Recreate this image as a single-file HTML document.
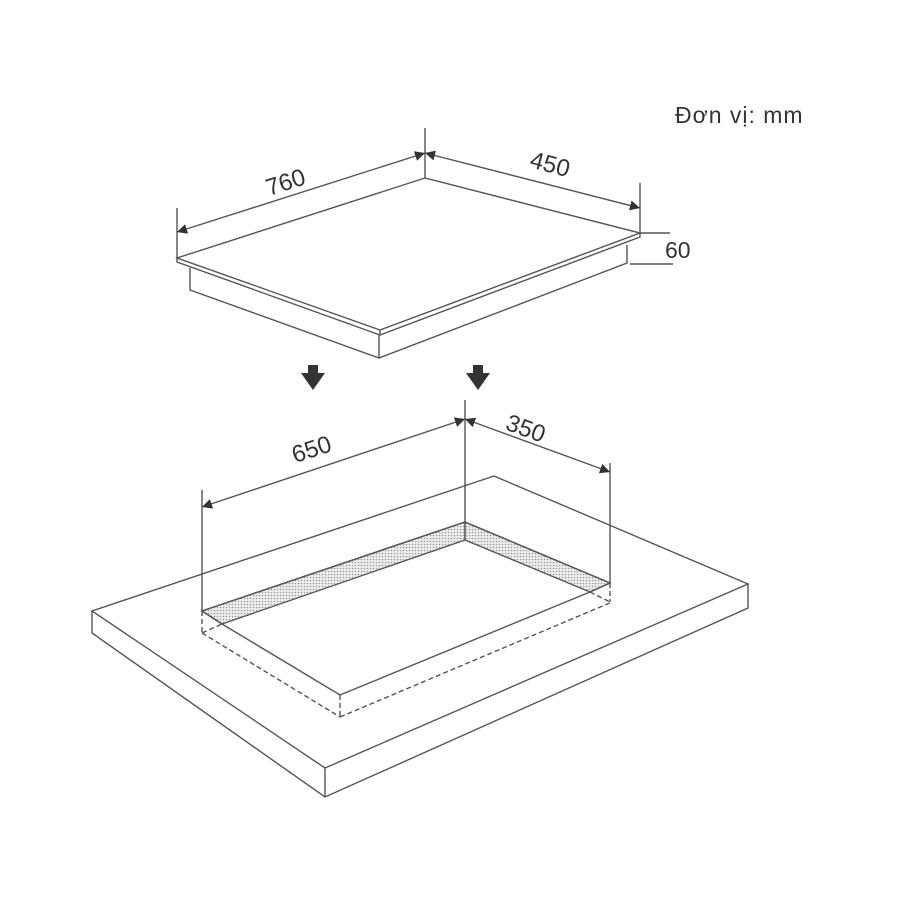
<!DOCTYPE html>
<html><head><meta charset="utf-8"><style>
html,body{margin:0;padding:0;background:#fff;}
svg{display:block}
text{font-family:"Liberation Sans","DejaVu Sans",sans-serif;fill:#333}
</style></head><body>
<svg width="900" height="900" viewBox="0 0 900 900" xmlns="http://www.w3.org/2000/svg">
<defs>
<pattern id="dots" width="3" height="3" patternUnits="userSpaceOnUse">
<rect width="3" height="3" fill="#eee"/><circle cx="1.5" cy="1.5" r="0.8" fill="#999"/>
</pattern>
<marker id="ah" viewBox="0 0 10 10" refX="10" refY="5" markerWidth="24" markerHeight="10" markerUnits="userSpaceOnUse" orient="auto-start-reverse">
<path d="M0,0 L10,5 L0,10 Z" fill="#333"/>
</marker>
</defs>
<text x="675" y="123" font-size="23" letter-spacing="1">Đơn vị: mm</text>
<g stroke="#555" stroke-width="1.4" fill="none">
<polygon points="425,178 177,258 380,330 640,233" fill="#fff"/>
<polyline points="177,258 177,262 380,335 640,237 640,233"/>
<line x1="380" y1="330" x2="380" y2="335"/>
<polyline points="190,268 190,290 379,358 627,263 627,245"/>
<line x1="379" y1="335" x2="379" y2="358"/>
<line x1="177" y1="208" x2="177" y2="258"/>
<line x1="425" y1="128" x2="425" y2="178"/>
<line x1="640" y1="183" x2="640" y2="233"/>
<line x1="177" y1="232" x2="425" y2="153" marker-start="url(#ah)" marker-end="url(#ah)"/>
<line x1="425" y1="153" x2="640" y2="208" marker-start="url(#ah)" marker-end="url(#ah)"/>
<line x1="640" y1="233" x2="670" y2="233"/>
<line x1="630" y1="264" x2="673" y2="264"/>
<polygon points="494,476 92,611 325,768 748,584"/>
<polyline points="92,611 92,633 325,797 748,608 748,584"/>
<line x1="325" y1="768" x2="325" y2="797"/>
<polygon points="465,522 202,611 222,624 465,540" fill="url(#dots)"/>
<polygon points="465,522 610,583 590,592 465,540" fill="url(#dots)"/>
<polyline points="202,611 465,522 610,583"/>
<polyline points="222,624 340,695 590,592"/>
<line x1="202" y1="611" x2="222" y2="624"/>
<line x1="590" y1="592" x2="610" y2="583"/>
<g stroke-dasharray="5,3">
<line x1="202" y1="611" x2="202" y2="633"/>
<line x1="202" y1="633" x2="340" y2="717"/>
<line x1="340" y1="695" x2="340" y2="717"/>
<line x1="340" y1="717" x2="612" y2="602"/>
<line x1="610" y1="583" x2="610" y2="602"/>
<line x1="202" y1="633" x2="222" y2="624"/>
<line x1="590" y1="592" x2="610" y2="602"/>
</g>
<line x1="202" y1="490" x2="202" y2="611"/>
<line x1="465" y1="400" x2="465" y2="522"/>
<line x1="610" y1="463" x2="610" y2="583"/>
<line x1="202" y1="507" x2="465" y2="419" marker-start="url(#ah)" marker-end="url(#ah)"/>
<line x1="465" y1="419" x2="610" y2="472" marker-start="url(#ah)" marker-end="url(#ah)"/>
</g>
<g fill="#333">
<path d="M308,365 H318 V373 H325 L313,390 L301,373 H308 Z"/>
<path d="M473,365 H483 V373 H490 L478,390 L466,373 H473 Z"/>
</g>
<g font-size="24">
<text transform="translate(288,190) rotate(-18)" text-anchor="middle">760</text>
<text transform="translate(548,172) rotate(15)" text-anchor="middle">450</text>
<text x="665" y="258" font-size="23">60</text>
<text transform="translate(314,457) rotate(-18)" text-anchor="middle">650</text>
<text transform="translate(523,436) rotate(20)" text-anchor="middle">350</text>
</g>
</svg>
</body></html>
